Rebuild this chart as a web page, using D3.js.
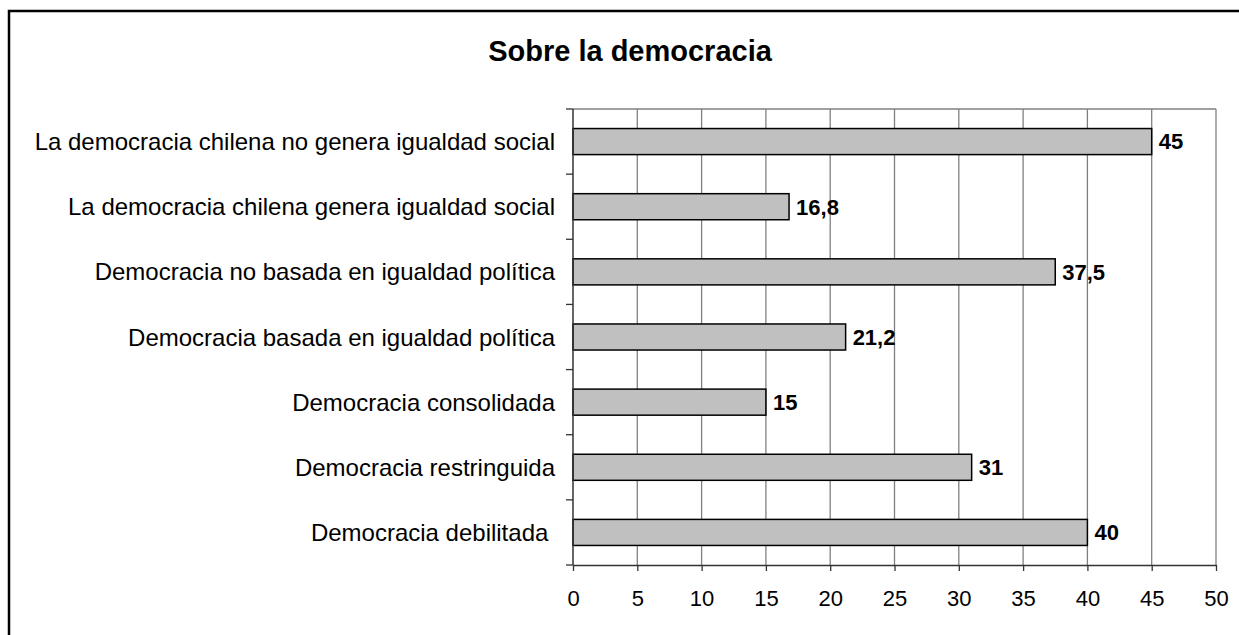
<!DOCTYPE html>
<html>
<head>
<meta charset="utf-8">
<script src="https://cdn.jsdelivr.net/npm/d3@7"></script>
<style>
  body { margin: 0; background: #fff; }
  svg { display: block; font-family: Arial, "Liberation Sans", sans-serif; }
</style>
</head>
<body>
<svg id="chart" width="1239" height="635"></svg>
<script>
const title = "Sobre la democracia"
const categories = [
  "La democracia chilena no genera igualdad social",
  "La democracia chilena genera igualdad social",
  "Democracia no basada en igualdad política",
  "Democracia basada en igualdad política",
  "Democracia consolidada",
  "Democracia restringuida",
  "Democracia debilitada "
]
const values = [45, 16.8, 37.5, 21.2, 15, 31, 40]
const xTicks = [0, 5, 10, 15, 20, 25, 30, 35, 40, 45, 50]

const svg = d3.select("#chart")
const width = 1239, height = 635
const margin = { top: 109, right: 23, bottom: 70, left: 573 }
const innerWidth = width - margin.left - margin.right
const innerHeight = height - margin.top - margin.bottom

// Outer frame (only left and top edges are inside the picture)
svg.append("path")
  .attr("d", `M9,${height} L9,11 L${width},11`)
  .attr("fill", "none")
  .attr("stroke", "#000")
  .attr("stroke-width", 2.5)

svg.append("text")
  .attr("x", 630)
  .attr("y", 61)
  .attr("text-anchor", "middle")
  .style("font-size", "29px")
  .style("font-weight", "bold")
  .text(title)

const chart = svg.append("g")
  .attr("transform", `translate(${margin.left},${margin.top})`)

const x = d3.scaleLinear().domain([0, 50]).range([0, innerWidth])
const y = d3.scaleBand().domain(categories).range([0, innerHeight]).paddingInner(0.6).paddingOuter(0.3)
const yBand = d3.scaleBand().domain(categories).range([0, innerHeight])

// Vertical grid lines
chart.append("g")
  .selectAll("line")
  .data(xTicks.slice(1))
  .join("line")
  .attr("x1", d => x(d)).attr("x2", d => x(d))
  .attr("y1", 0).attr("y2", innerHeight)
  .attr("stroke", "#808080")
  .attr("stroke-width", 1.3)

// Top border of plot area
chart.append("line")
  .attr("x1", 0).attr("x2", innerWidth)
  .attr("y1", 0).attr("y2", 0)
  .attr("stroke", "#808080")
  .attr("stroke-width", 1.3)

// Bars
chart.selectAll(".bar")
  .data(values)
  .join("rect")
  .attr("class", "bar")
  .attr("x", 0)
  .attr("y", (d, i) => y(categories[i]))
  .attr("width", d => x(d))
  .attr("height", y.bandwidth())
  .attr("fill", "#c0c0c0")
  .attr("stroke", "#000")
  .attr("stroke-width", 1.5)

// Value labels
chart.selectAll(".value")
  .data(values)
  .join("text")
  .attr("class", "value")
  .attr("x", d => x(d) + 7)
  .attr("y", (d, i) => y(categories[i]) + y.bandwidth() / 2)
  .attr("dy", "0.36em")
  .style("font-size", "22px")
  .style("font-weight", "bold")
  .text(d => String(d).replace(".", ","))

// X axis
const xAxis = chart.append("g")
  .attr("transform", `translate(0,${innerHeight})`)
  .call(d3.axisBottom(x).tickValues(xTicks).tickSize(6).tickSizeOuter(0).tickPadding(19))
xAxis.select(".domain").attr("stroke", "#333").attr("stroke-width", 1.5)
xAxis.selectAll(".tick line").attr("stroke", "#333").attr("stroke-width", 1.3)
xAxis.selectAll("text").style("font-size", "22px").attr("fill", "#000")

// Y axis: ticks at category boundaries
const yAxis = chart.append("g")
yAxis.append("line")
  .attr("x1", 0).attr("x2", 0)
  .attr("y1", 0).attr("y2", innerHeight)
  .attr("stroke", "#333")
  .attr("stroke-width", 1.5)
yAxis.selectAll(".ytick")
  .data(d3.range(categories.length + 1))
  .join("line")
  .attr("class", "ytick")
  .attr("x1", -7).attr("x2", 0)
  .attr("y1", i => i * yBand.step()).attr("y2", i => i * yBand.step())
  .attr("stroke", "#333")
  .attr("stroke-width", 1.3)

// Category labels
chart.selectAll(".cat")
  .data(categories)
  .join("text")
  .attr("class", "cat")
  .attr("x", -18)
  .attr("y", d => yBand(d) + yBand.bandwidth() / 2)
  .attr("dy", "0.36em")
  .attr("text-anchor", "end")
  .attr("xml:space", "preserve")
  .style("white-space", "pre")
  .style("font-size", "24px")
  .text(d => d)
</script>
</body>
</html>
